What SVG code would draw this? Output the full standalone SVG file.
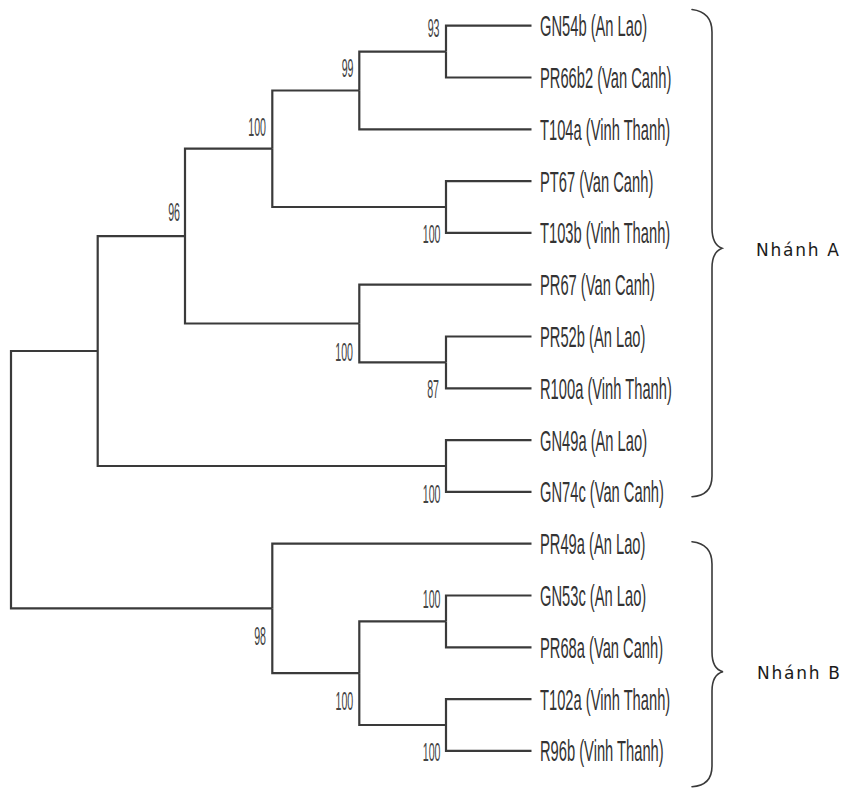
<svg xmlns="http://www.w3.org/2000/svg" width="845" height="789" viewBox="0 0 845 789">
<style>
  .edge { fill: none; stroke: #3a3a3a; stroke-width: 2.2; stroke-linejoin: miter; stroke-linecap: butt; }
  .brace { fill: none; stroke: #3a3a3a; stroke-width: 1.6; stroke-linecap: round; }
  .leaf { font-family: "Liberation Sans", Arial, sans-serif; font-size: 29px; fill: #333; }
  .bs { font-family: "Liberation Sans", Arial, sans-serif; font-size: 26px; fill: #444; text-anchor: end; }
  .clade { font-family: "DejaVu Sans", sans-serif; font-size: 17px; fill: #1a1a1a; }
</style>
<rect width="845" height="789" fill="#ffffff"/>

<g id="connectors">
  <path class="edge" d="M11 480 V351 H97.7"/>
  <path class="edge" d="M11 480 V608.4 H272.3"/>
  <path class="edge" d="M97.7 351 V236.1 H185"/>
  <path class="edge" d="M97.7 351 V466 H446"/>
  <path class="edge" d="M185 236.1 V148.7 H272.3"/>
  <path class="edge" d="M185 236.1 V323.5 H359.3"/>
  <path class="edge" d="M272.3 148.7 V90.5 H359.3"/>
  <path class="edge" d="M272.3 148.7 V207 H446"/>
  <path class="edge" d="M359.3 90.5 V51.6 H446"/>
  <path class="edge" d="M359.3 90.5 V129.3 H531.5"/>
  <path class="edge" d="M446 51.6 V25.7 H531.5"/>
  <path class="edge" d="M446 51.6 V77.5 H531.5"/>
  <path class="edge" d="M446 207 V181.1 H531.5"/>
  <path class="edge" d="M446 207 V232.9 H531.5"/>
  <path class="edge" d="M359.3 323.5 V284.7 H531.5"/>
  <path class="edge" d="M359.3 323.5 V362.4 H446"/>
  <path class="edge" d="M446 362.4 V336.5 H531.5"/>
  <path class="edge" d="M446 362.4 V388.3 H531.5"/>
  <path class="edge" d="M446 466 V440.1 H531.5"/>
  <path class="edge" d="M446 466 V491.9 H531.5"/>
  <path class="edge" d="M272.3 608.4 V543.7 H531.5"/>
  <path class="edge" d="M272.3 608.4 V673.2 H359.3"/>
  <path class="edge" d="M359.3 673.2 V621.4 H446"/>
  <path class="edge" d="M359.3 673.2 V725 H446"/>
  <path class="edge" d="M446 621.4 V595.5 H531.5"/>
  <path class="edge" d="M446 621.4 V647.3 H531.5"/>
  <path class="edge" d="M446 725 V699.1 H531.5"/>
  <path class="edge" d="M446 725 V750.9 H531.5"/>
</g>

<g id="bootstrap-values">
  <g id="n93"><text class="bs" transform="translate(439.5,37) scale(0.41,1)">93</text></g>
  <g id="n99"><text class="bs" transform="translate(353.5,77) scale(0.41,1)">99</text></g>
  <g id="n100a"><text class="bs" transform="translate(266,136) scale(0.41,1)">100</text></g>
  <g id="n100b"><text class="bs" transform="translate(440.5,243) scale(0.41,1)">100</text></g>
  <g id="n96"><text class="bs" transform="translate(180,221) scale(0.41,1)">96</text></g>
  <g id="n100c"><text class="bs" transform="translate(353,361) scale(0.41,1)">100</text></g>
  <g id="n87"><text class="bs" transform="translate(439,398) scale(0.41,1)">87</text></g>
  <g id="n100d"><text class="bs" transform="translate(440.5,503) scale(0.41,1)">100</text></g>
  <g id="n98"><text class="bs" transform="translate(266,645) scale(0.41,1)">98</text></g>
  <g id="n100e"><text class="bs" transform="translate(440.5,608) scale(0.41,1)">100</text></g>
  <g id="n100f"><text class="bs" transform="translate(353.3,710) scale(0.41,1)">100</text></g>
  <g id="n100g"><text class="bs" transform="translate(440.5,761) scale(0.41,1)">100</text></g>
</g>

<g id="leaves">
  <g id="GN54b"><text class="leaf" transform="translate(540,36.2) scale(0.507,1)">GN54b (An Lao)</text></g>
  <g id="PR66b2"><text class="leaf" transform="translate(540,88) scale(0.507,1)">PR66b2 (Van Canh)</text></g>
  <g id="T104a"><text class="leaf" transform="translate(540,139.8) scale(0.507,1)">T104a (Vinh Thanh)</text></g>
  <g id="PT67"><text class="leaf" transform="translate(540,191.6) scale(0.507,1)">PT67 (Van Canh)</text></g>
  <g id="T103b"><text class="leaf" transform="translate(540,243.4) scale(0.507,1)">T103b (Vinh Thanh)</text></g>
  <g id="PR67"><text class="leaf" transform="translate(540,295.2) scale(0.507,1)">PR67 (Van Canh)</text></g>
  <g id="PR52b"><text class="leaf" transform="translate(540,347) scale(0.507,1)">PR52b (An Lao)</text></g>
  <g id="R100a"><text class="leaf" transform="translate(540,398.8) scale(0.507,1)">R100a (Vinh Thanh)</text></g>
  <g id="GN49a"><text class="leaf" transform="translate(540,450.6) scale(0.507,1)">GN49a (An Lao)</text></g>
  <g id="GN74c"><text class="leaf" transform="translate(540,502.4) scale(0.507,1)">GN74c (Van Canh)</text></g>
  <g id="PR49a"><text class="leaf" transform="translate(540,554.2) scale(0.507,1)">PR49a (An Lao)</text></g>
  <g id="GN53c"><text class="leaf" transform="translate(540,606) scale(0.507,1)">GN53c (An Lao)</text></g>
  <g id="PR68a"><text class="leaf" transform="translate(540,657.8) scale(0.507,1)">PR68a (Van Canh)</text></g>
  <g id="T102a"><text class="leaf" transform="translate(540,709.6) scale(0.507,1)">T102a (Vinh Thanh)</text></g>
  <g id="R96b"><text class="leaf" transform="translate(540,761.4) scale(0.507,1)">R96b (Vinh Thanh)</text></g>
</g>

<g id="clade-A">
  <path class="brace" d="M692 9.5 C704 11 712 18 712 32 V228 C712 240 716 246 722 248.3 C716 250.6 712 256 712 268 V476 C712 490 704 496 692 496.7"/>
  <text class="clade" x="756" y="256" textLength="83" lengthAdjust="spacing">Nhánh A</text>
</g>
<g id="clade-B">
  <path class="brace" d="M692 541.7 C704 543 712 550 712 564 V652 C712 664 716 670 723 671.7 C716 673.5 712 679 712 691 V766 C712 780 704 786 692 786.7"/>
  <text class="clade" x="757" y="679" textLength="83" lengthAdjust="spacing">Nhánh B</text>
</g>
</svg>
